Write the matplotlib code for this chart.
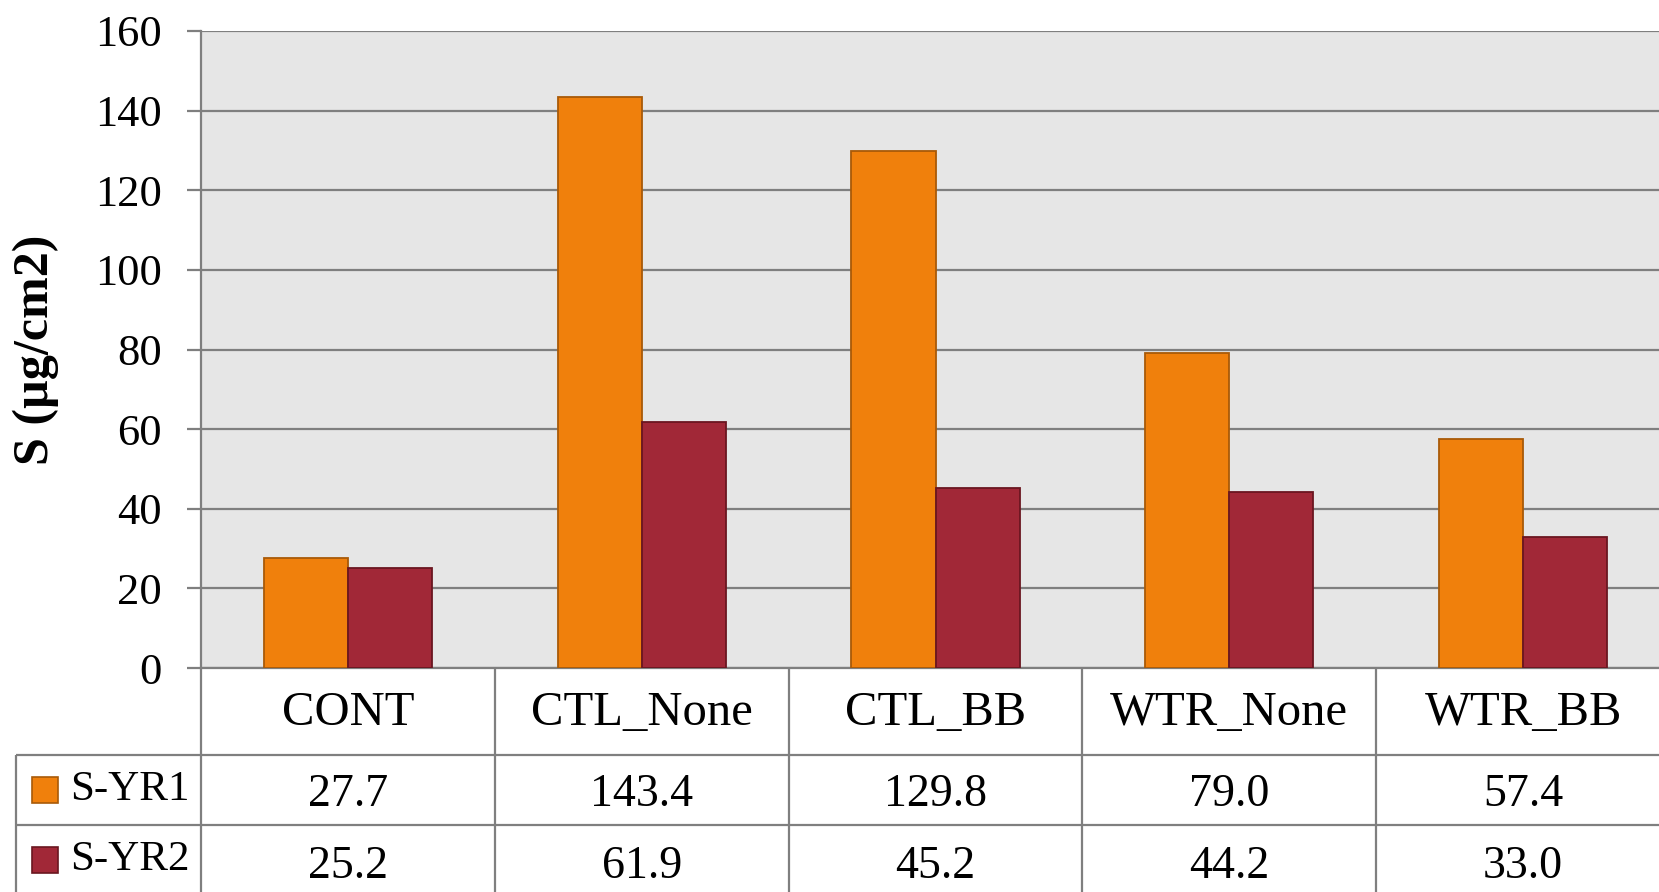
import numpy as np
import matplotlib
matplotlib.use("Agg")
import matplotlib.pyplot as plt
from matplotlib.patches import Rectangle

plt.rcParams['font.family'] = ['Liberation Serif', 'DejaVu Serif']

categories = ['CONT', 'CTL_None', 'CTL_BB', 'WTR_None', 'WTR_BB']
series_names = ['S-YR1', 'S-YR2']
s_yr1 = [27.7, 143.4, 129.8, 79.0, 57.4]
s_yr2 = [25.2, 61.9, 45.2, 44.2, 33.0]
yticks = [0, 20, 40, 60, 80, 100, 120, 140, 160]

orange = '#F0800C'
orange_edge = '#A85A08'
red = '#A12837'
red_edge = '#6A1620'
grid_col = '#7F7F7F'

W, H = 1659, 892
fig = plt.figure(figsize=(W / 100, H / 100), dpi=100)


def box(x0, y0, x1, y1):
    # pixel box (top-left origin) -> figure fraction rect
    return [x0 / W, 1 - y1 / H, (x1 - x0) / W, (y1 - y0) / H]


# plot area runs a little past the right edge of the image
left, right, top, zero_y = 201, 1670, 31, 668
ax = fig.add_axes(box(left, top, right, zero_y))
x = np.arange(len(categories))
bw = 0.286
ax.bar(x - bw / 2, s_yr1, bw, color=orange, edgecolor=orange_edge, lw=1.3, zorder=3)
ax.bar(x + bw / 2, s_yr2, bw, color=red, edgecolor=red_edge, lw=1.3, zorder=3)
ax.set_xlim(-0.5, len(categories) - 0.5)
ax.set_ylim(0, 160)
ax.set_yticks(yticks)
ax.set_xticks([])
ax.set_facecolor('#E6E6E6')
ax.grid(axis='y', color=grid_col, lw=1.6)
ax.set_axisbelow(True)
for s in ['top', 'right']:
    ax.spines[s].set_visible(False)
for s in ['left', 'bottom']:
    ax.spines[s].set_color(grid_col)
    ax.spines[s].set_linewidth(1.6)
ax.tick_params(axis='y', length=10, width=1.6, color=grid_col, labelsize=32, pad=18)

fig.text(36 / W, 1 - 350 / H, 'S (µg/cm2)', rotation=90, fontsize=36,
         fontweight='bold', ha='center', va='center')

# data table under the plot, x in category units so columns line up with bars
unit = (right - left) / len(categories)
tax = fig.add_axes(box(0, zero_y, right, H))
tax.set_xlim(-0.5 - left / unit, len(categories) - 0.5)
tax.set_ylim(H - zero_y, 0)
tax.axis('off')


def cx(px):
    return -0.5 + (px - left) / unit


row1, row2 = 755 - zero_y, 825 - zero_y
lkw = dict(color=grid_col, lw=1.6, clip_on=False)
tax.hlines([row1, row2], cx(16), len(categories) - 0.5, **lkw)
tax.vlines(cx(16), row1, H - zero_y, **lkw)
tax.vlines(np.arange(len(categories)) + 0.5, 0, H - zero_y, **lkw)
tax.vlines(-0.5, 0, H - zero_y, **lkw)

for i, c in enumerate(categories):
    tax.text(i, 45, c, ha='center', va='center', fontsize=35)
    tax.text(i, 127, f'{s_yr1[i]:.1f}', ha='center', va='center', fontsize=33)
    tax.text(i, 199, f'{s_yr2[i]:.1f}', ha='center', va='center', fontsize=33)

for name, col, ec, yc in [(series_names[0], orange, orange_edge, 122),
                          (series_names[1], red, red_edge, 192)]:
    tax.add_patch(Rectangle((cx(32), yc - 13), cx(58) - cx(32), 26,
                            facecolor=col, edgecolor=ec, lw=1.2, clip_on=False))
    tax.text(cx(70), yc, name, ha='left', va='center', fontsize=31)

fig.savefig('out.png', dpi=100)
